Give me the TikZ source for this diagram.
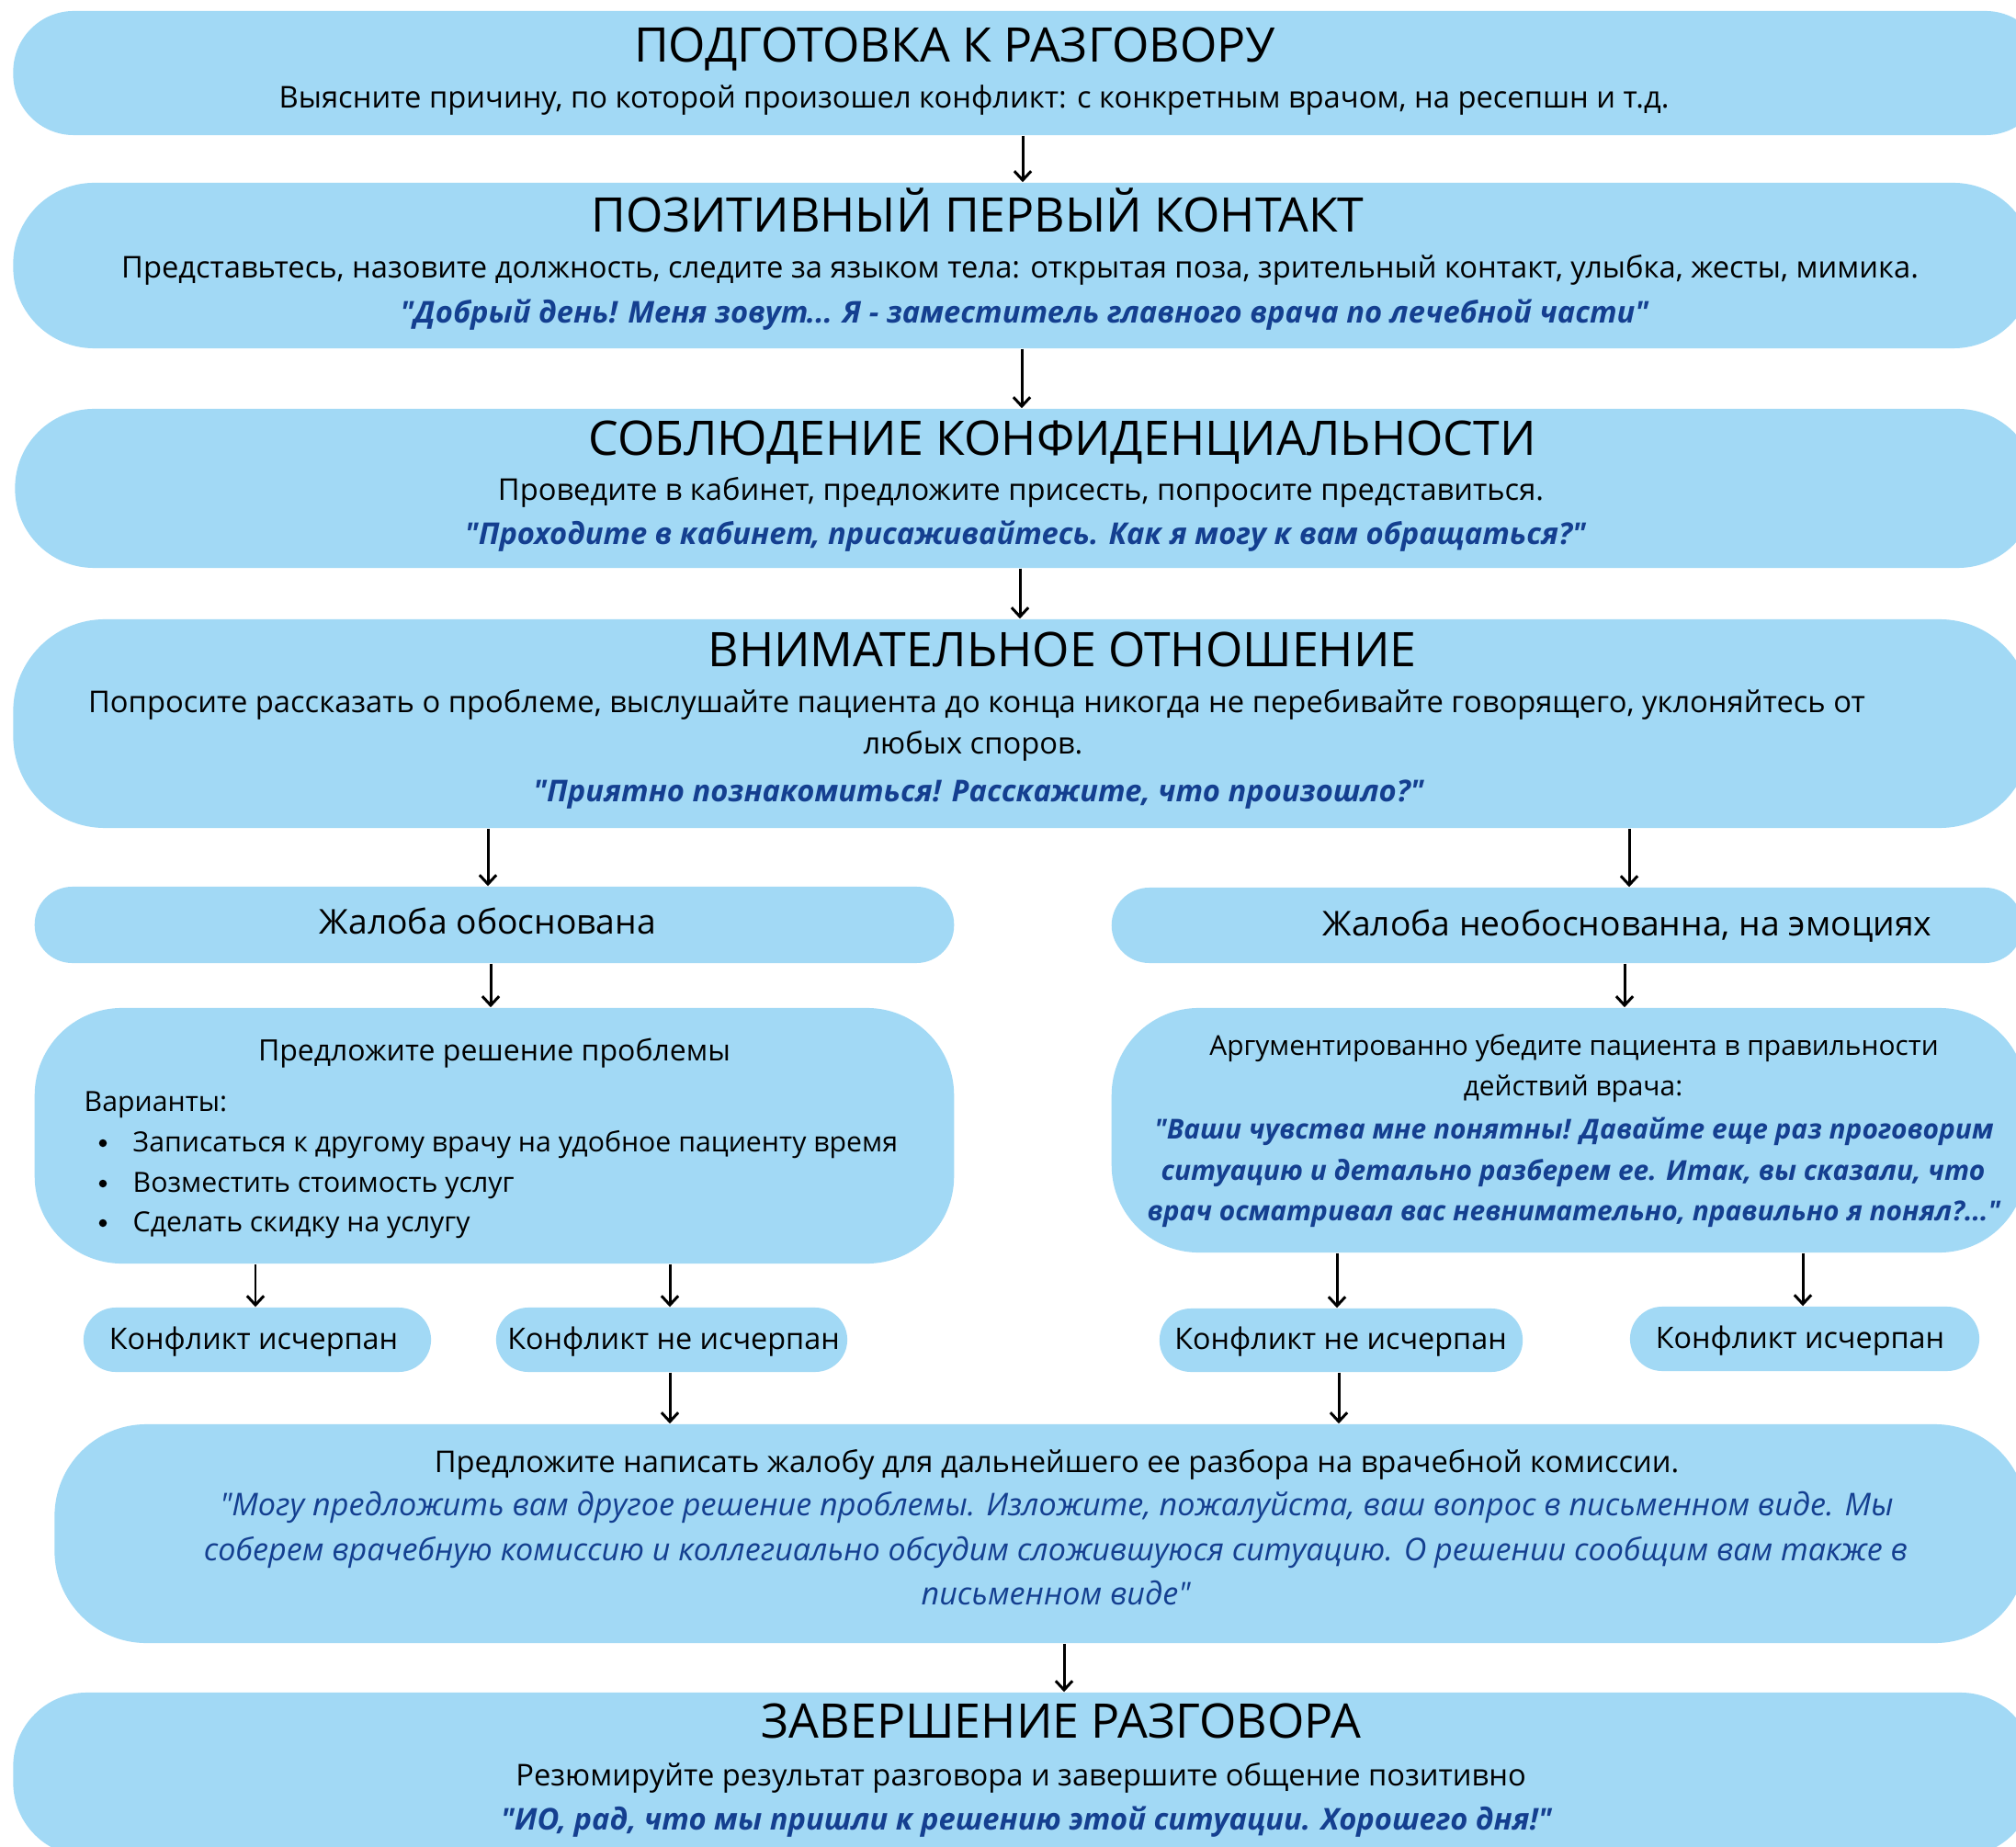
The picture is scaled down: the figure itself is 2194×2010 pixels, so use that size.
\documentclass[tikz,border=0pt]{standalone}
\usepackage{fontspec}
\setmainfont{Open Sans}
\usepackage{xcolor}
\usetikzlibrary{arrows.meta}
\definecolor{boxblue}{HTML}{A2D9F5}
\definecolor{quoteblue}{HTML}{143F90}
\newcommand{\dq}{\textquotedbl}
\tikzset{
  flow/.style={-{Straight Barb[length=2.8pt,width=5.2pt]}, line width=0.85pt, draw=black},
  stage/.style={fill=boxblue, draw=none, inner sep=0pt},
  headline/.style={anchor=base, inner sep=0pt, font=\fontsize{14.75}{17}\selectfont},
  plain/.style={anchor=base, inner sep=0pt, font=\fontsize{9.3}{11}\selectfont},
  quote/.style={anchor=base, inner sep=0pt, text=quoteblue, font=\fontsize{9.3}{11}\selectfont\bfseries\itshape},
  softquote/.style={anchor=base, inner sep=0pt, text=quoteblue, font=\fontsize{9.7}{11}\selectfont\itshape},
  branch/.style={anchor=base, inner sep=0pt, font=\fontsize{10.6}{13}\selectfont},
  verdict/.style={anchor=base, inner sep=0pt, font=\fontsize{9.2}{12}\selectfont},
  small/.style={anchor=base, inner sep=0pt, font=\fontsize{8.6}{11}\selectfont},
  bullet/.style={circle, fill=black, inner sep=0pt, minimum size=0.085cm}
}
\begin{document}
\begin{tikzpicture}[x=0.01cm, y=-0.01cm]
  \useasboundingbox (0,0) rectangle (2194,2010);
  \fill[white] (0,0) rectangle (2194,2010);
  \clip (0,0) rectangle (2194,2010);

  % main stages
  \node[stage, minimum width=22.11cm, minimum height=1.35cm, rounded corners=0.66cm] (prep) at (1120.5,79.5) {};
  \node[stage, minimum width=21.98cm, minimum height=1.80cm, rounded corners=0.88cm] (contact) at (1114,289) {};
  \node[stage, minimum width=21.99cm, minimum height=1.73cm, rounded corners=0.86cm] (privacy) at (1116.5,531.5) {};
  \node[stage, minimum width=21.95cm, minimum height=2.27cm, rounded corners=1.0cm] (attention) at (1112.5,787.5) {};

  \node[headline] (prepT) at (1039,68) {ПОДГОТОВКА К РАЗГОВОРУ};
  \node[plain] (prepB) at (1060,118) {Выясните причину, по которой произошел конфликт: с конкретным врачом, на ресепшн и т.д.};

  \node[headline] (contactT) at (1064,253) {ПОЗИТИВНЫЙ ПЕРВЫЙ КОНТАКТ};
  \node[plain] (contactB) at (1110,303) {Представьтесь, назовите должность, следите за языком тела: открытая поза, зрительный контакт, улыбка, жесты, мимика.};
  \node[quote] (contactQ) at (1115,352) {\dq Добрый день! Меня зовут... Я - заместитель главного врача по лечебной части\dq};

  \node[headline] (privacyT) at (1156,496) {СОБЛЮДЕНИЕ КОНФИДЕНЦИАЛЬНОСТИ};
  \node[plain] (privacyB) at (1111,545) {Проведите в кабинет, предложите присесть, попросите представиться.};
  \node[quote] (privacyQ) at (1116,593) {\dq Проходите в кабинет, присаживайтесь. Как я могу к вам обращаться?\dq};

  \node[headline] (attentionT) at (1156,726) {ВНИМАТЕЛЬНОЕ ОТНОШЕНИЕ};
  \node[plain] (attentionB) at (1063,776) {Попросите рассказать о проблеме, выслушайте пациента до конца никогда не перебивайте говорящего, уклоняйтесь от};
  \node[plain] (attentionC) at (1059,821) {любых споров.};
  \node[quote] (attentionQ) at (1065,873) {\dq Приятно познакомиться! Расскажите, что произошло?\dq};

  % two branches
  \node[stage, minimum width=10.00cm, minimum height=0.83cm, rounded corners=0.41cm] (valid) at (538,1006.5) {};
  \node[stage, minimum width=9.91cm, minimum height=0.82cm, rounded corners=0.41cm] (emotion) at (1705.5,1007) {};
  \node[branch] (validT) at (531,1017) {Жалоба обоснована};
  \node[branch] (emotionT) at (1771,1018) {Жалоба необоснованна, на эмоциях};

  \node[stage, minimum width=10.00cm, minimum height=2.78cm, rounded corners=0.95cm] (solve) at (538,1236) {};
  \node[small, font=\fontsize{9.1}{11}\selectfont] (solveT) at (538,1154) {Предложите решение проблемы};
  \node[small, anchor=base west] (solveV) at (91,1209) {Варианты:};
  \foreach \y/\txt [count=\i] in {1253/Записаться к другому врачу на удобное пациенту время,
      1297/Возместить стоимость услуг, 1340/Сделать скидку на услугу}{
    \node[bullet] (dot\i) at (112,\y-9) {};
    \node[small, anchor=base west] (opt\i) at (144,\y) {\txt};
  }

  \node[stage, minimum width=9.95cm, minimum height=2.66cm, rounded corners=0.95cm] (argue) at (1707.5,1230) {};
  \node[small, font=\fontsize{8.5}{11}\selectfont] (argueA) at (1713,1148) {Аргументированно убедите пациента в правильности};
  \node[small, font=\fontsize{8.5}{11}\selectfont] (argueB) at (1712,1192) {действий врача:};
  \node[quote, font=\fontsize{8.5}{11}\selectfont\bfseries\itshape] (argueQ1) at (1713,1239) {\dq Ваши чувства мне понятны! Давайте еще раз проговорим};
  \node[quote, font=\fontsize{8.5}{11}\selectfont\bfseries\itshape] (argueQ2) at (1712,1284) {ситуацию и детально разберем ее. Итак, вы сказали, что};
  \node[quote, font=\fontsize{8.5}{11}\selectfont\bfseries\itshape] (argueQ3) at (1713,1328) {врач осматривал вас невнимательно, правильно я понял?...\dq};

  % outcomes
  \node[stage, minimum width=3.78cm, minimum height=0.70cm, rounded corners=0.35cm] (doneL) at (280,1458) {};
  \node[stage, minimum width=3.82cm, minimum height=0.70cm, rounded corners=0.35cm] (openL) at (731,1458) {};
  \node[stage, minimum width=3.95cm, minimum height=0.69cm, rounded corners=0.34cm] (openR) at (1459.5,1458.5) {};
  \node[stage, minimum width=3.80cm, minimum height=0.70cm, rounded corners=0.35cm] (doneR) at (1964,1457) {};
  \node[verdict] (doneLT) at (276,1468) {Конфликт исчерпан};
  \node[verdict] (openLT) at (733,1468) {Конфликт не исчерпан};
  \node[verdict] (openRT) at (1459,1468) {Конфликт не исчерпан};
  \node[verdict] (doneRT) at (1959,1467) {Конфликт исчерпан};

  \node[stage, minimum width=21.45cm, minimum height=2.38cm, rounded corners=1.0cm] (commission) at (1132.5,1669) {};
  \node[plain] (commissionT) at (1150,1602) {Предложите написать жалобу для дальнейшего ее разбора на врачебной комиссии.};
  \node[softquote] (commissionQ1) at (1150,1649) {\dq Могу предложить вам другое решение проблемы. Изложите, пожалуйста, ваш вопрос в письменном виде. Мы};
  \node[softquote] (commissionQ2) at (1149,1698) {соберем врачебную комиссию и коллегиально обсудим сложившуюся ситуацию. О решении сообщим вам также в};
  \node[softquote] (commissionQ3) at (1149,1746) {письменном виде\dq};

  \node[stage, minimum width=21.98cm, minimum height=1.78cm, rounded corners=0.80cm] (finish) at (1114,1931) {};
  \node[headline] (finishT) at (1155,1891) {ЗАВЕРШЕНИЕ РАЗГОВОРА};
  \node[plain] (finishB) at (1111,1943) {Резюмируйте результат разговора и завершите общение позитивно};
  \node[quote] (finishQ) at (1117,1991) {\dq ИО, рад, что мы пришли к решению этой ситуации. Хорошего дня!\dq};

  % connectors
  \draw[flow] (1113,0 |- prep.south) -- (1113,0 |- contact.north);
  \draw[flow] (1112,0 |- contact.south) -- (1112,0 |- privacy.north);
  \draw[flow] (1110,0 |- privacy.south) -- (1110,0 |- attention.north);
  \draw[flow] (531,0 |- attention.south) -- (531,0 |- valid.north);
  \draw[flow] (1773,0 |- attention.south) -- (1773,0 |- emotion.north);
  \draw[flow] (534,0 |- valid.south) -- (534,0 |- solve.north);
  \draw[flow] (1768,0 |- emotion.south) -- (1768,0 |- argue.north);
  \draw[flow] (278,0 |- solve.south) -- (278,0 |- doneL.north);
  \draw[flow] (729,0 |- solve.south) -- (729,0 |- openL.north);
  \draw[flow] (1455,0 |- argue.south) -- (1455,0 |- openR.north);
  \draw[flow] (1962,0 |- argue.south) -- (1962,0 |- doneR.north);
  \draw[flow] (729,0 |- openL.south) -- (729,0 |- commission.north);
  \draw[flow] (1457,0 |- openR.south) -- (1457,0 |- commission.north);
  \draw[flow] (1158,0 |- commission.south) -- (1158,0 |- finish.north);
\end{tikzpicture}
\end{document}
